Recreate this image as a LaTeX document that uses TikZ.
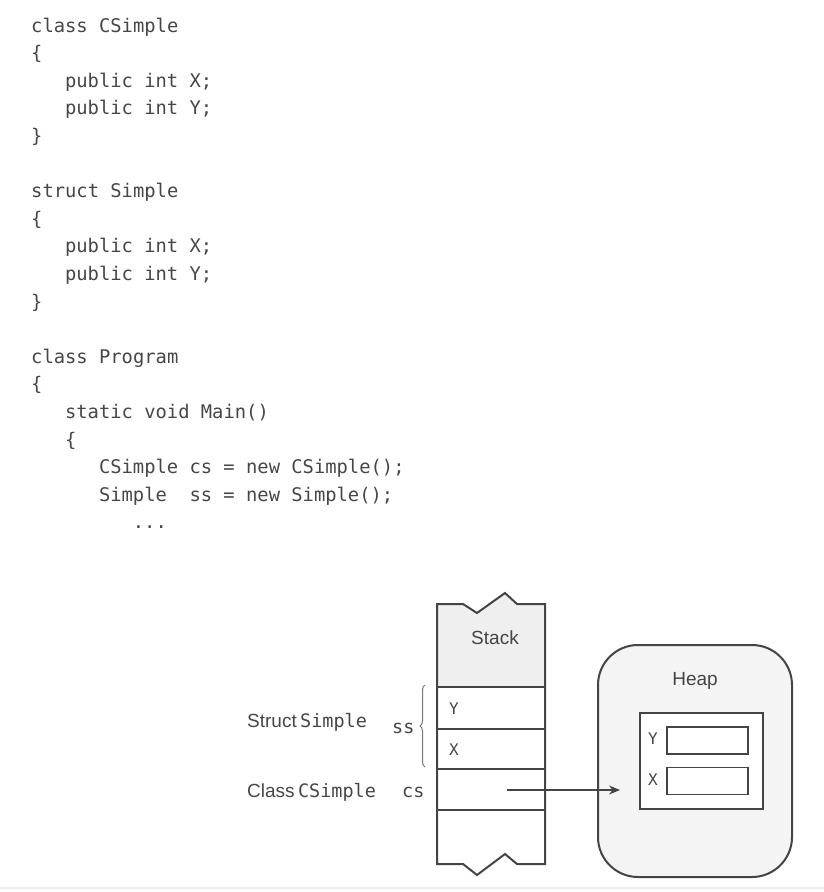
\documentclass[tikz,border=0pt]{standalone}
\usepackage{fontspec}
\usetikzlibrary{arrows.meta,decorations.pathreplacing}
\newfontfamily\codefont{DejaVu Sans Mono}
\newfontfamily\labfont{Liberation Sans}
\definecolor{codegray}{HTML}{464646}
\definecolor{linegray}{HTML}{444444}
\definecolor{headfill}{HTML}{EFEFEF}
\definecolor{heapfill}{HTML}{F4F4F4}
\tikzset{
  codeline/.style={anchor=base west, inner sep=0pt, text=codegray,
    font=\codefont\fontsize{18.8}{22}\selectfont},
  biglabel/.style={inner sep=0pt, text=linegray, font=\labfont\fontsize{19}{22}\selectfont},
  sidelabel/.style={anchor=base west, inner sep=0pt, text=codegray},
  cellletter/.style={inner sep=0pt, text=codegray, font=\codefont\fontsize{16}{18}\selectfont},
  stackline/.style={draw=linegray, line width=2pt, line join=miter},
  heapbox/.style={draw=linegray, line width=2pt, fill=heapfill, rounded corners=40pt,
    minimum width=194pt, minimum height=232pt, inner sep=0pt},
  objbox/.style={draw=linegray, line width=2pt, fill=white, inner sep=0pt},
  fieldbox/.style={draw=linegray, line width=1.8pt, fill=white, inner sep=0pt,
    minimum width=81pt, minimum height=27pt},
  arr/.style={draw=linegray, line width=1.3pt, -{Stealth[length=11pt,width=9pt]}},
}
\begin{document}
\begin{tikzpicture}[x=1pt,y=-1pt]
\useasboundingbox (0,0) rectangle (824,892);
% ---------- code ----------
\foreach \i/\ind/\txt [count=\n] in {
  0/0/{class CSimple},
  1/0/{\{},
  2/3/{public int X;},
  3/3/{public int Y;},
  4/0/{\}},
  6/0/{struct Simple},
  7/0/{\{},
  8/3/{public int X;},
  9/3/{public int Y;},
  10/0/{\}},
  12/0/{class Program},
  13/0/{\{},
  14/3/{static void Main()},
  15/3/{\{},
  16/6/{CSimple cs = new CSimple();},
  17/6/{Simple\ \ ss = new Simple();},
  18/9/{...}}
  \node[codeline] (code\n) at ({31+\ind*11.3},{32+27.6*\i}) {\txt};
% ---------- stack ----------
\fill[headfill] (437,604) -- (463,604) -- (477,613) -- (505,593) -- (517,604) -- (545,604)
  -- (545,687) -- (437,687) -- cycle;
\draw[stackline] (437,604) -- (463,604) -- (477,613) -- (505,593) -- (517,604) -- (545,604)
  -- (545,864) -- (517,864) -- (505,854) -- (477,875) -- (463,864) -- (437,864) -- cycle;
\draw[stackline] (437,687) -- (545,687);
\draw[stackline] (437,729) -- (545,729);
\draw[stackline] (437,769) -- (545,769);
\draw[stackline] (437,810) -- (545,810);
\node[biglabel] (stacklabel) at (495,638) {Stack};
\node[cellletter] (sy) at (454,709) {Y};
\node[cellletter] (sx) at (454,750) {X};
\coordinate (csdot) at (507,790);
% brace and labels
\draw[codegray!75, line width=1pt, decoration={brace, amplitude=5pt}, decorate]
  (425,767) -- (425,685);
\node[sidelabel] (structlab) at (247,727)
  {{\labfont\fontsize{19}{21}\selectfont Struct} {\codefont\fontsize{18.5}{21}\selectfont Simple}};
\node[sidelabel] (sslab) at (392,733) {\codefont\fontsize{18.5}{21}\selectfont ss};
\node[sidelabel] (classlab) at (247,797)
  {{\labfont\fontsize{19}{21}\selectfont Class} {\codefont\fontsize{18.5}{21}\selectfont CSimple}};
\node[sidelabel] (cslab) at (402,797) {\codefont\fontsize{18.5}{21}\selectfont cs};
% ---------- heap ----------
\node[heapbox] (heap) at (695,761) {};
\node[biglabel] (heaplabel) at (695,681) {Heap};
\node[objbox, minimum width=123pt, minimum height=96pt] (obj) at (701.5,761) {};
\node[fieldbox] (hy) at (707.5,740.5) {};
\node[fieldbox] (hx) at (707.5,781) {};
\node[cellletter] (hyl) at (653,739) {Y};
\node[cellletter] (hxl) at (653,780) {X};
% ---------- arrow ----------
\draw[arr, shorten >=19pt] (csdot) -- (csdot -| obj.west);
% ---------- bottom rule ----------
\draw[gray!15, line width=2pt] (0,888) -- (824,888);
\end{tikzpicture}
\end{document}
